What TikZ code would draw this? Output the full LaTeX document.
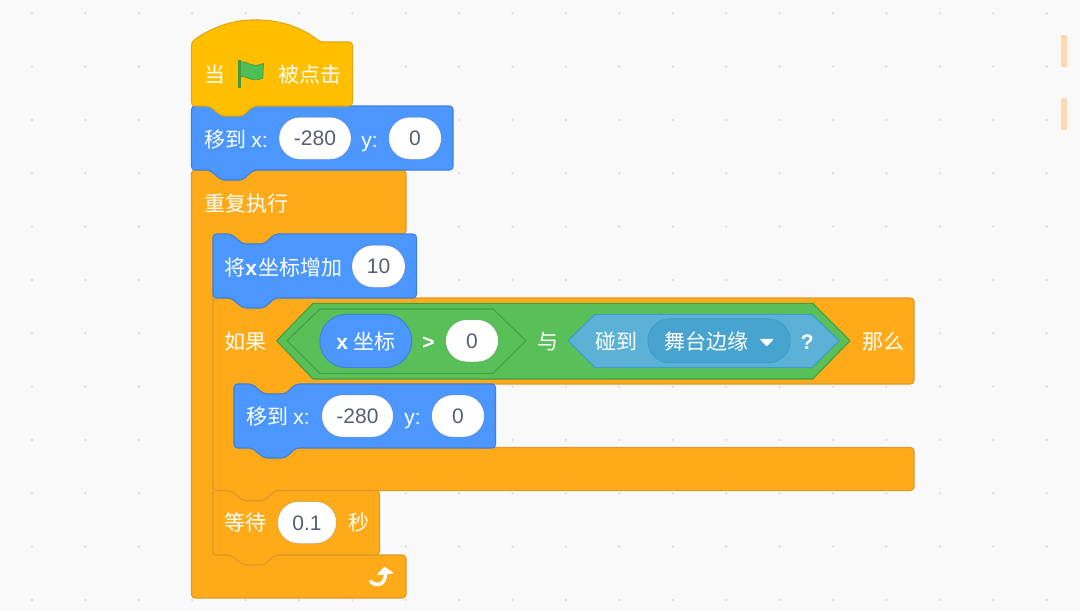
\documentclass[tikz,border=0pt]{standalone}
\usepackage{fontspec}
\setmainfont{Liberation Sans}
\newfontfamily\cjk{Noto Sans CJK SC}
\definecolor{bgc}{HTML}{F9F9F9}
\definecolor{dotc}{HTML}{DEDEDE}
\definecolor{barc}{HTML}{FFD8B2}
\definecolor{ctlf}{HTML}{FFAB19}
\definecolor{ctld}{HTML}{DB9A2B}
\definecolor{evf}{HTML}{FFBF00}
\definecolor{evd}{HTML}{E0A90A}
\definecolor{motf}{HTML}{4C97FF}
\definecolor{motd}{HTML}{3F80D9}
\definecolor{opf}{HTML}{59C059}
\definecolor{opd}{HTML}{429E44}
\definecolor{senf}{HTML}{5CB1D6}
\definecolor{send}{HTML}{3E9CC6}
\definecolor{menuf}{HTML}{47A4CF}
\definecolor{numc}{HTML}{575E75}
\definecolor{flagf}{HTML}{4CBF56}
\definecolor{flagd}{HTML}{45993D}
\tikzset{
  x=0.75pt,y=-0.75pt,
  blockbase/.style={line width=0.8pt,rounded corners=2.6pt,line join=round},
  ctl/.style={blockbase,fill=ctlf,draw=ctld},
  evt/.style={blockbase,fill=evf,draw=evd},
  mot/.style={blockbase,fill=motf,draw=motd},
  hexg/.style={line width=0.8pt,line join=round,fill=opf,draw=opd},
  hexs/.style={line width=0.8pt,line join=round,fill=senf,draw=send},
  cj/.style={inner sep=0pt,anchor=base west,text=white,font=\fontsize{15.75}{18}\selectfont\cjk},
  lat/.style={inner sep=0pt,anchor=base west,text=white,font=\fontsize{15.75}{18}\selectfont\bfseries},
  reg/.style={inner sep=0pt,anchor=base west,text=white,font=\fontsize{15.75}{18}\selectfont},
  pill/.style={rectangle,rounded corners=15.7pt,fill=white,draw=black,draw opacity=.14,line width=0.6pt,
    minimum height=31.5pt,inner sep=0pt,text height=11.3pt,text depth=0pt,text=numc,
    font=\fontsize{15.75}{18}\selectfont},
}
\newcommand{\stackblock}[5]{%
  \path[#1] (#2,#3) -- ++(18,0) -- ++(12,10) -- ++(21,0) -- ++(11,-10) -- (#4,#3) -- (#4,#5)
    -- ({#2+62},#5) -- ++(-11,10) -- ++(-21,0) -- ++(-12,-10) -- (#2,#5) -- cycle;}
\newcommand{\hexpath}[7]{%
  \path[#1] (#2,340.7) -- (#3,#6) -- (#4,#6) -- (#5,340.7) -- (#4,#7) -- (#3,#7) -- cycle;}
\begin{document}
\begin{tikzpicture}
\useasboundingbox (0,0) rectangle (1080,611);
\fill[bgc] (0,0) rectangle (1080,611);
\foreach \i in {0,...,19}{\foreach \j in {0,...,11}{
  \fill[dotc] ({32+53.4*\i},{13.3+53.33*\j}) circle (1pt);}}
\fill[barc] (1061,35) rectangle (1067.3,67.3);
\fill[barc] (1061,98.3) rectangle (1067.3,130);

% repeat loop
\path[ctl] (191.5,170) -- ++(18,0) -- ++(12,10) -- ++(21,0) -- ++(11,-10) -- (406,170) -- (406,234)
  -- (275,234) -- ++(-11,10) -- ++(-21,0) -- ++(-12,-10) -- (213,234) -- (213,555) -- (406,555)
  -- (406,598) -- (191.5,598) -- cycle;
% wait
\stackblock{ctl}{213}{490.5}{379.5}{555}
% if
\path[ctl] (213,298) -- ++(18,0) -- ++(12,10) -- ++(21,0) -- ++(11,-10) -- (914,298) -- (914,384)
  -- (296,384) -- ++(-11,10) -- ++(-21,0) -- ++(-12,-10) -- (234,384) -- (234,447.5) -- (914,447.5)
  -- (914,490.5) -- (275,490.5) -- ++(-11,10) -- ++(-21,0) -- ++(-12,-10) -- (213,490.5) -- cycle;
% motion blocks
\stackblock{mot}{234}{384}{495.5}{448}
\stackblock{mot}{213}{234}{416.5}{298}
\stackblock{mot}{191.5}{106}{453}{170}
% hat
\path[evt] (191.5,42) .. controls (210,28) and (233,20) .. (255,20) .. controls (280,20) and (303,28) .. (320,42)
  -- (352.5,42) -- (352.5,106) -- (253.5,106) -- ++(-11,10) -- ++(-21,0) -- ++(-12,-10) -- (191.5,106) -- cycle;

% flag
\fill[flagd] (238.3,60) rectangle (240.8,87.5);
\path[fill=flagf,draw=flagd,line width=0.5pt] (240.5,61.5) .. controls (247,61) and (252,68.5) .. (263.5,63.5)
  -- (262.8,78) .. controls (252,83.5) and (246,75) .. (240.5,76.5) -- cycle;

\node[cj] (t1) at (204,82) {当};
\node[cj] (t2) at (278,82) {被点击};

\node[cj] (m1) at (204,147) {移到};
\node[reg] (m1x) at (251,147) {x:};
\node[pill,minimum width=54pt] (m1a) at (315,138.3) {-280};
\node[reg] (m1y) at (361,147) {y:};
\node[pill,minimum width=39.4pt] (m1b) at (415,138.3) {0};

\node[cj] (r1) at (204,211) {重复执行};

\node[cj] (s1) at (224,275) {将};
\node[lat] (s2) at (245,275) {x};
\node[cj] (s3) at (258,275) {坐标增加};
\node[pill,minimum width=39.8pt] (s4) at (378.5,266.3) {10};

\node[cj] (f1) at (224,349) {如果};
\hexpath{hexg}{276.7}{313}{812.7}{850}{303.3}{379}
\hexpath{hexg}{287}{320}{493}{526}{309}{373.3}
\node[rectangle,rounded corners=20pt,fill=motf,draw=motd,line width=0.7pt,minimum width=69pt,minimum height=40pt,inner sep=0pt] (xp) at (365.8,341) {};
\node[lat] (xp1) at (336,349) {x};
\node[cj] (xp2) at (353,349) {坐标};
\node[lat] (gt) at (422,349) {>};
\node[pill,minimum width=39.3pt] (z) at (472,340.8) {0};
\node[cj] (yu) at (537,349) {与};
\hexpath{hexs}{568}{595}{811.7}{839.3}{314.3}{367.7}
\node[cj] (c1) at (595,349) {碰到};
\node[rectangle,rounded corners=16pt,fill=menuf,draw=send,line width=0.7pt,minimum width=106.5pt,minimum height=32.8pt,inner sep=0pt] (mn) at (719,340.8) {};
\node[cj] (mnt) at (664,349) {舞台边缘};
\path[fill=white,draw=white,line width=1pt,line join=round] (761,339.5) -- (772.5,339.5) -- (766.7,345.5) -- cycle;
\node[lat] (q) at (800.5,349) {?};
\node[cj] (nm) at (862,349) {那么};

\node[cj] (m3) at (246,424) {移到};
\node[reg] (m3x) at (293,424) {x:};
\node[pill,minimum width=53.5pt] (m3a) at (357.5,416) {-280};
\node[reg] (m3y) at (404,424) {y:};
\node[pill,minimum width=39.4pt] (m3b) at (458,416) {0};

\node[cj] (w1) at (224,530) {等待};
\node[pill,minimum width=44pt] (w2) at (307,522.5) {0.1};
\node[cj] (w3) at (348,530) {秒};

% repeat arrow
\draw[white,line width=2.6pt,line cap=round] (370.5,581.5) .. controls (376,586.5) and (385.5,586) .. (385.5,573);
\path[fill=white,draw=white,line width=1pt,line join=round] (378,574.5) -- (384.5,567.5) -- (392.5,573) -- cycle;
\end{tikzpicture}
\end{document}
